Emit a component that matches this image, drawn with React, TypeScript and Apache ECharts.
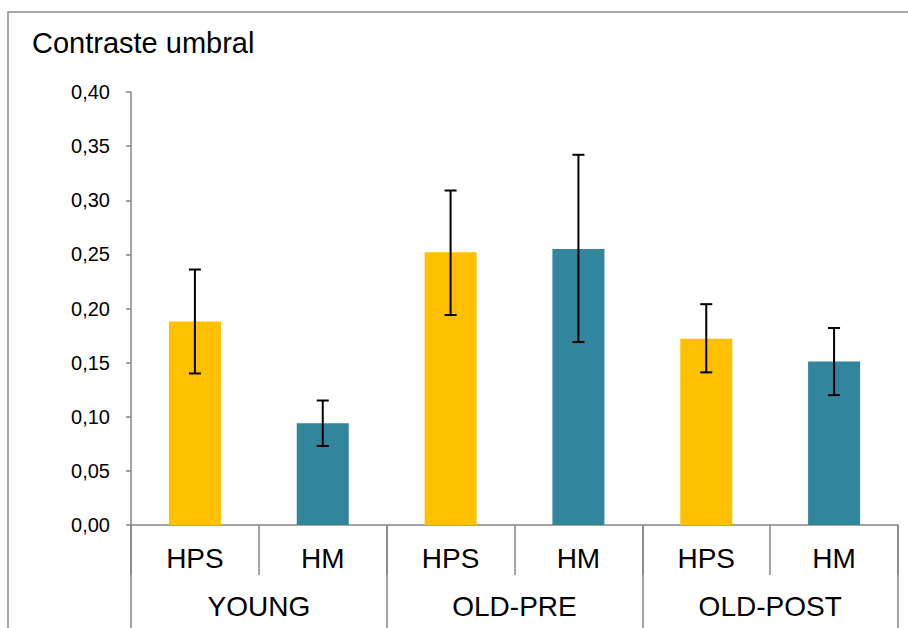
import React, { useEffect, useRef } from "react";
import * as echarts from "echarts";

const categories = ["HPS", "HM", "HPS", "HM", "HPS", "HM"];
const groups = ["YOUNG", "OLD-PRE", "OLD-POST"];
const means = [0.188, 0.094, 0.252, 0.255, 0.172, 0.151];
const errLow = [0.140, 0.073, 0.194, 0.169, 0.141, 0.120];
const errHigh = [0.236, 0.115, 0.309, 0.342, 0.204, 0.182];
const barColors = ["#FFC000", "#31859C", "#FFC000", "#31859C", "#FFC000", "#31859C"];
const yTicks = { min: 0, max: 0.4, interval: 0.05 };

const FONT = "Liberation Sans, Arial, sans-serif";

export default function App() {
  const ref = useRef<HTMLDivElement>(null);
  useEffect(() => {
    if (!ref.current) return;
    const chart = echarts.init(ref.current, null, { renderer: "svg" });
    const axisColor = "#868686";
    chart.setOption({
      animation: false,
      backgroundColor: "#ffffff",
      textStyle: { fontFamily: FONT },
      graphic: [
        {
          type: "rect",
          shape: { x: 8, y: 12, width: 1000, height: 700 },
          style: { fill: "none", stroke: "#8c8c8c", lineWidth: 1.5 },
          silent: true,
        },
        {
          type: "text",
          left: 32,
          top: 28,
          style: { text: "Contraste umbral", fontSize: 29, fontFamily: FONT, fill: "#000" },
        },
      ],
      grid: { left: 131, right: 10, top: 92, bottom: 103, containLabel: false },
      xAxis: [
        {
          type: "category",
          data: categories,
          position: "bottom",
          axisLine: { show: true, lineStyle: { color: axisColor, width: 1.5 } },
          axisTick: { show: true, interval: 0, length: 50, lineStyle: { color: axisColor, width: 1.5 } },
          axisLabel: { interval: 0, fontSize: 28, color: "#000", margin: 19, fontFamily: FONT },
          splitLine: { show: false },
        },
        {
          type: "category",
          data: groups,
          position: "bottom",
          axisLine: { show: false },
          axisTick: { show: true, interval: 0, length: 110, lineStyle: { color: axisColor, width: 1.5 } },
          axisLabel: { interval: 0, fontSize: 28, color: "#000", margin: 67, fontFamily: FONT },
          splitLine: { show: false },
        },
      ],
      yAxis: {
        type: "value",
        min: yTicks.min,
        max: yTicks.max,
        interval: yTicks.interval,
        axisLine: { show: true, lineStyle: { color: axisColor, width: 1.5 } },
        axisTick: { show: true, length: 5, lineStyle: { color: axisColor, width: 1.5 } },
        splitLine: { show: false },
        axisLabel: {
          fontSize: 20,
          color: "#000",
          margin: 21,
          fontFamily: FONT,
          formatter: (v: number) => v.toFixed(2).replace(".", ","),
        },
      },
      series: [
        {
          type: "bar",
          xAxisIndex: 0,
          barWidth: 52,
          data: means.map((v, i) => ({ value: v, itemStyle: { color: barColors[i] } })),
        },
        {
          type: "custom",
          xAxisIndex: 0,
          data: means.map((_, i) => [i, errLow[i], errHigh[i]]),
          renderItem: (params: any, api: any) => {
            const idx = api.value(0);
            const lo = api.coord([idx, api.value(1)]);
            const hi = api.coord([idx, api.value(2)]);
            const x = lo[0];
            const half = 6;
            const style = { stroke: "#000", lineWidth: 2 };
            return {
              type: "group",
              children: [
                { type: "line", shape: { x1: x, y1: lo[1], x2: x, y2: hi[1] }, style },
                { type: "line", shape: { x1: x - half, y1: lo[1], x2: x + half, y2: lo[1] }, style },
                { type: "line", shape: { x1: x - half, y1: hi[1], x2: x + half, y2: hi[1] }, style },
              ],
            };
          },
          z: 5,
        },
      ],
    });
    return () => chart.dispose();
  }, []);
  return (
    <div
      ref={ref}
      style={{ position: "absolute", left: 0, top: 0, width: 908, height: 628 }}
    />
  );
}
